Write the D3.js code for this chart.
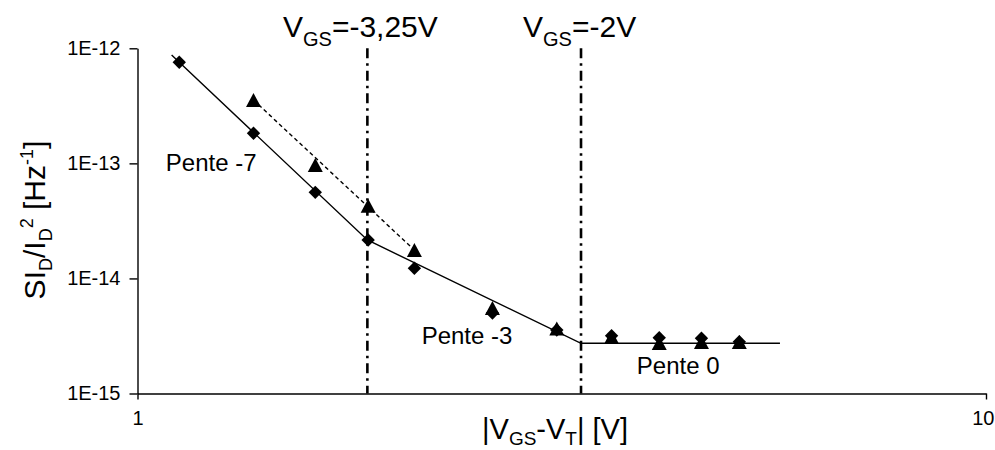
<!DOCTYPE html>
<html><head><meta charset="utf-8">
<script src="https://cdn.jsdelivr.net/npm/d3@7"></script>
<style>
body{margin:0;background:#fff}
svg{display:block}
text{font-family:"Liberation Sans",Arial,sans-serif;fill:#000}
</style>
</head><body>
<svg id="chart" width="995" height="450"></svg>
<script>
// ---- data ----
const xValues = [1.12, 1.37, 1.62, 1.87, 2.12, 2.62, 3.12, 3.62, 4.12, 4.62, 5.12];
const diamondValues = [7.56e-13, 1.825e-13, 5.60e-14, 2.158e-14, 1.225e-14, 5.01e-15, 3.56e-15, 3.18e-15, 3.055e-15, 3.02e-15, 2.82e-15];
const triangleX = [1.37, 1.62, 1.87, 2.12, 2.62, 3.12, 3.62, 4.12, 4.62, 5.12];
const triangleValues = [3.55e-13, 9.68e-14, 4.29e-14, 1.766e-14, 5.53e-15, 3.67e-15, 3.10e-15, 2.75e-15, 2.80e-15, 2.80e-15];
const solidFitX = [1.097, 1.866, 3.332, 5.717];
const solidFitY = [8.75e-13, 2.158e-14, 2.73e-15, 2.73e-15];
const dashedFitX = [1.37, 2.12];
const dashedFitY = [3.55e-13, 1.766e-14];
const refLineX = [1.866, 3.332];
const xTicks = [1, 10];
const xTickLabels = ["1", "10"];
const yTicks = [1e-15, 1e-14, 1e-13, 1e-12];
const yTickLabels = ["1E-15", "1E-14", "1E-13", "1E-12"];
const slopeLabels = ["Pente -7", "Pente -3", "Pente 0"];
const slopeLabelX = [1.080, 2.162, 3.877];
const slopeLabelY = [8.58e-14, 2.69e-15, 1.47e-15];
const refLabelMain = ["V", "V"];
const refLabelSub = ["GS", "GS"];
const refLabelRest = ["=-3,25V", "=-2V"];
const refLabelX = [1.484, 2.847];
const refLabelY = [1.26e-12, 1.26e-12];

// ---- chart ----
const svg = d3.select("#chart");
const x = d3.scaleLog().domain([1, 10]).range([137.5, 986]);
const y = d3.scaleLog().domain([1e-15, 1e-12]).range([393.5, 48.3]);

// axes
const gx = svg.append("g").attr("transform", `translate(0,${y(1e-15)})`)
  .call(d3.axisBottom(x).tickValues(xTicks).tickFormat((d, i) => xTickLabels[i])
    .tickSize(6).tickSizeOuter(0).tickPadding(11));
const gy = svg.append("g").attr("transform", `translate(${x(1)},0)`)
  .call(d3.axisLeft(y).tickValues(yTicks).tickFormat((d, i) => yTickLabels[i])
    .tickSize(8).tickSizeOuter(0).tickPadding(9));
[gx, gy].forEach(g => {
  g.select(".domain").attr("stroke", "#000").attr("stroke-width", 1.4);
  g.selectAll(".tick line").attr("stroke", "#000").attr("stroke-width", 1.4);
  g.selectAll(".tick text").attr("font-size", 20).attr("font-family", "Liberation Sans, Arial, sans-serif").attr("fill", "#000");
});
// keep the last x tick label inside the canvas
gx.selectAll(".tick text").filter(d => d === 10).attr("text-anchor", "end").attr("dx", 8);

// vertical reference lines
svg.selectAll(".ref").data(refLineX).join("line")
  .attr("x1", d => x(d)).attr("x2", d => x(d))
  .attr("y1", y(1e-12)).attr("y2", y(1e-15))
  .attr("stroke", "#000").attr("stroke-width", 2.6)
  .attr("stroke-dasharray", "10,5,2.5,5");

// fit lines
const line = d3.line().x(d => x(d[0])).y(d => y(d[1]));
svg.append("path").datum(solidFitX.map((v, i) => [v, solidFitY[i]]))
  .attr("d", line).attr("fill", "none").attr("stroke", "#000").attr("stroke-width", 1.4);
svg.append("path").datum(dashedFitX.map((v, i) => [v, dashedFitY[i]]))
  .attr("d", line).attr("fill", "none").attr("stroke", "#000").attr("stroke-width", 1.4)
  .attr("stroke-dasharray", "4,3");

// markers
const tri = "M0,-7L7.5,7L-7.5,7Z";
const dia = "M0,-6.7L6.7,0L0,6.7L-6.7,0Z";
svg.selectAll(".tri").data(triangleX.map((v, i) => [v, triangleValues[i]])).join("path")
  .attr("d", tri).attr("transform", d => `translate(${x(d[0])},${y(d[1])})`).attr("fill", "#000");
svg.selectAll(".dia").data(xValues.map((v, i) => [v, diamondValues[i]])).join("path")
  .attr("d", dia).attr("transform", d => `translate(${x(d[0])},${y(d[1])})`).attr("fill", "#000");

// slope labels
svg.selectAll(".slope").data(slopeLabels).join("text")
  .attr("x", (d, i) => x(slopeLabelX[i])).attr("y", (d, i) => y(slopeLabelY[i]))
  .attr("font-size", 24).text(d => d);

// reference labels
refLabelMain.forEach((m, i) => {
  const t = svg.append("text").attr("x", x(refLabelX[i])).attr("y", y(refLabelY[i])).attr("font-size", 30);
  t.append("tspan").text(m);
  t.append("tspan").attr("dy", 9).attr("font-size", 20).text(refLabelSub[i]);
  t.append("tspan").attr("dy", -9).text(refLabelRest[i]);
});

// x axis title
const xt = svg.append("text").attr("x", 555).attr("y", 439).attr("text-anchor", "middle").attr("font-size", 29);
xt.append("tspan").text("|V");
xt.append("tspan").attr("dy", 6).attr("font-size", 19).text("GS");
xt.append("tspan").attr("dy", -6).text("-V");
xt.append("tspan").attr("dy", 6).attr("font-size", 19).text("T");
xt.append("tspan").attr("dy", -6).text("| [V]");

// y axis title
const yt = svg.append("text").attr("transform", "translate(45,220) rotate(-90)")
  .attr("text-anchor", "middle").attr("font-size", 30);
yt.append("tspan").text("SI");
yt.append("tspan").attr("dy", 7).attr("font-size", 18).text("D");
yt.append("tspan").attr("dy", -7).text("/I");
yt.append("tspan").attr("dy", 7).attr("font-size", 18).text("D");
yt.append("tspan").attr("dy", -19).attr("font-size", 18).text("2");
yt.append("tspan").attr("dy", 12).text(" [Hz");
yt.append("tspan").attr("dy", -12).attr("font-size", 18).text("-1");
yt.append("tspan").attr("dy", 12).text("]");
</script>
</body></html>
